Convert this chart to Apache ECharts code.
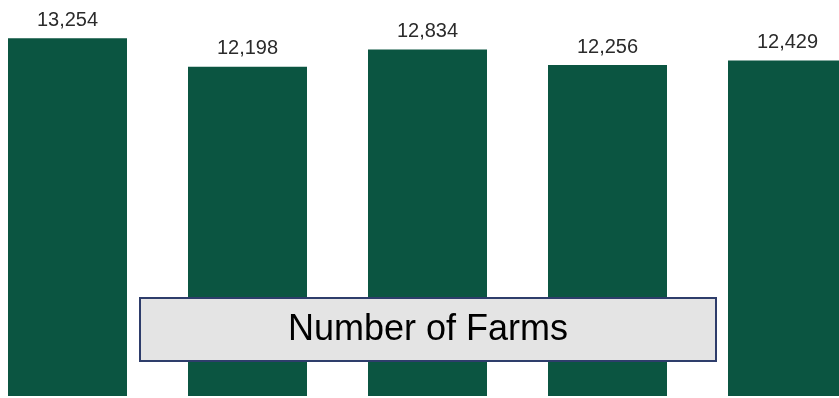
<!DOCTYPE html>
<html>
<head>
<meta charset="utf-8">
<style>
  html, body { margin: 0; padding: 0; background: #ffffff; }
  #chart { width: 839px; height: 398px; }
</style>
<script src="https://cdn.jsdelivr.net/npm/echarts@6/dist/echarts.min.js"></script>
</head>
<body>
<div id="chart"></div>
<script>
// Farm counts by period
const categories = ['A', 'B', 'C', 'D', 'E'];
const farmCounts = [13254, 12198, 12834, 12256, 12429];
const boxTitle = 'Number of Farms';

const chart = echarts.init(document.getElementById('chart'), null, { renderer: 'canvas' });

chart.setOption({
  animation: false,
  backgroundColor: '#ffffff',
  grid: { left: -22.5, width: 900, top: 18, bottom: 2, containLabel: false, outerBoundsMode: 'none' },
  xAxis: {
    type: 'category',
    data: categories,
    show: false
  },
  yAxis: {
    type: 'value',
    min: 0,
    max: 14000,
    show: false
  },
  series: [{
    type: 'bar',
    data: farmCounts,
    barWidth: 119,
    itemStyle: { color: '#0b5541' },
    label: {
      show: true,
      position: 'top',
      distance: 8,
      fontFamily: 'Liberation Sans, Arial, sans-serif',
      fontSize: 20,
      color: '#2b2b2b',
      formatter: p => p.value.toLocaleString('en-US')
    }
  }],
  // Caption box laid over the lower part of the bars
  graphic: [{
    type: 'group',
    left: 139,
    top: 297,
    z: 100,
    children: [{
      type: 'rect',
      z: 100,
      shape: { x: 0, y: 0, width: 576, height: 63 },
      style: { fill: '#e4e4e4', stroke: '#2e3d6b', lineWidth: 2 }
    }, {
      type: 'text',
      z: 101,
      x: 288,
      y: 32,
      style: {
        text: boxTitle,
        fill: '#000000',
        fontFamily: 'Liberation Sans, Arial, sans-serif',
        fontSize: 36,
        align: 'center',
        verticalAlign: 'middle'
      }
    }]
  }]
});
</script>
</body>
</html>
